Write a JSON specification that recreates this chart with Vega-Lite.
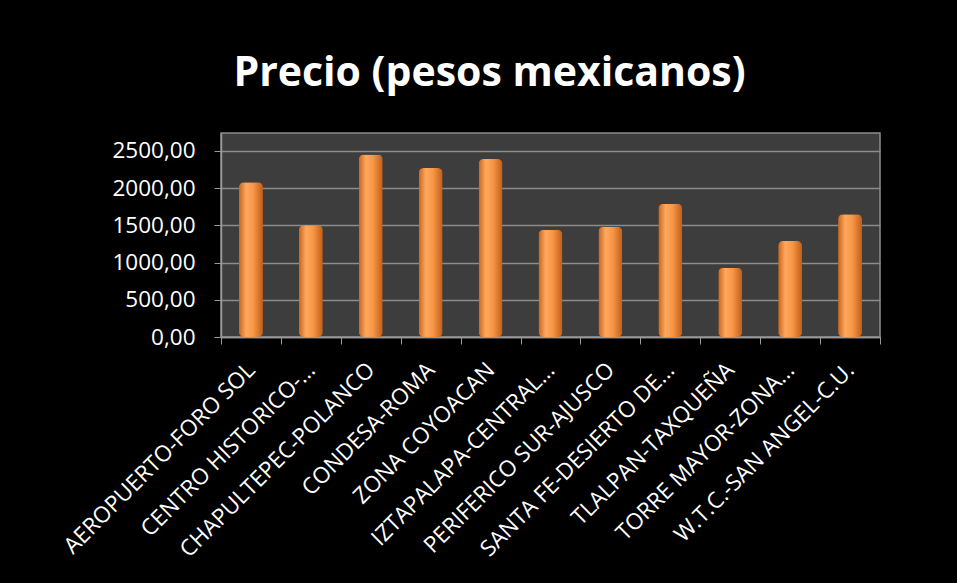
{
  "$schema": "https://vega.github.io/schema/vega-lite/v6.json",
  "autosize": {"type": "none"},
  "width": 659,
  "height": 204,
  "padding": {"left": 221, "top": 133, "right": 77, "bottom": 246},
  "background": "#000000",
  "title": {
    "text": "Precio (pesos mexicanos)",
    "font": "Open Sans",
    "fontSize": 41,
    "fontWeight": "bold",
    "color": "#ffffff",
    "anchor": "middle",
    "baseline": "alphabetic",
    "offset": 6,
    "dx": -61
  },
  "data": {
    "values": [
      {"zona": "AEROPUERTO-FORO SOL", "precio": 2080},
      {"zona": "CENTRO HISTORICO-...", "precio": 1500},
      {"zona": "CHAPULTEPEC-POLANCO", "precio": 2450},
      {"zona": "CONDESA-ROMA", "precio": 2270},
      {"zona": "ZONA COYOACAN", "precio": 2390},
      {"zona": "IZTAPALAPA-CENTRAL...", "precio": 1440},
      {"zona": "PERIFERICO SUR-AJUSCO", "precio": 1480},
      {"zona": "SANTA FE-DESIERTO DE...", "precio": 1790},
      {"zona": "TLALPAN-TAXQUEÑA", "precio": 930},
      {"zona": "TORRE MAYOR-ZONA...", "precio": 1290},
      {"zona": "W.T.C.-SAN ANGEL-C.U.", "precio": 1650}
    ]
  },
  "mark": {
    "type": "bar",
    "width": {"band": 0.4},
    "cornerRadius": 5,
    "color": {
      "gradient": "linear",
      "x1": 0, "x2": 1, "y1": 0, "y2": 0,
      "stops": [
        {"offset": 0, "color": "#c8641c"},
        {"offset": 0.3, "color": "#ffa85e"},
        {"offset": 0.6, "color": "#f79646"},
        {"offset": 1, "color": "#c05e18"}
      ]
    }
  },
  "encoding": {
    "x": {
      "field": "zona",
      "type": "nominal",
      "sort": null,
      "scale": {"paddingInner": 0, "paddingOuter": 0},
      "axis": {
        "title": null,
        "labelAngle": -45,
        "labelAlign": "right",
        "labelBaseline": "middle",
        "labelFont": "Open Sans",
        "labelFontSize": 22.5,
        "labelColor": "#ffffff",
        "labelPadding": 22,
        "labelLimit": 400,
        "tickBand": "extent",
        "tickSize": 7,
        "tickColor": "#9a9a9a",
        "domainColor": "#9a9a9a",
        "domainWidth": 1.5,
        "grid": false
      }
    },
    "y": {
      "field": "precio",
      "type": "quantitative",
      "scale": {"domain": [0, 2740], "nice": false},
      "axis": {
        "title": null,
        "values": [0, 500, 1000, 1500, 2000, 2500],
        "labelExpr": "replace(format(datum.value, '.2f'), '.', ',')",
        "labelFont": "Open Sans",
        "labelFontSize": 22.5,
        "labelColor": "#ffffff",
        "labelPadding": 19,
        "tickSize": 7,
        "tickColor": "#9a9a9a",
        "domainColor": "#9a9a9a",
        "domainWidth": 1.5,
        "grid": true,
        "gridColor": "#8c8c8c",
        "gridWidth": 1.5
      }
    }
  },
  "config": {
    "view": {"fill": "#3d3d3d", "stroke": "#8c8c8c", "strokeWidth": 1.5}
  }
}
